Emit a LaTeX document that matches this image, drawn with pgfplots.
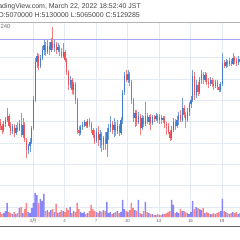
\documentclass[border=0pt]{standalone}
\usepackage{pgfplots}
\pgfplotsset{compat=1.18}
\usepackage{pgfplotstable}
\usepackage{fontspec}
\setmainfont{Liberation Sans}
\newfontfamily\cjk{Noto Sans CJK JP}
\definecolor{upc}{RGB}{66,124,204}
\definecolor{dnc}{RGB}{238,84,88}
\definecolor{upv}{RGB}{135,135,250}
\definecolor{dnv}{RGB}{250,135,135}
\definecolor{gridc}{RGB}{228,234,243}
\definecolor{hlc}{RGB}{165,165,245}
\definecolor{txt}{RGB}{70,70,70}
% o h l c : depth below the top of the picture (pixels); v : volume bar height
\pgfplotstableread{
i o h l c v
0 122 119 130 126 5
1 126 124 134 130 3
2 130 121 132 124 4
3 124 117 127 120 6
4 120 108 122 116 14
5 116 114 128 126 5
6 126 122 135 131 4
7 131 124 134 126 3
8 126 124 137 133 5
9 133 125 135 128 3
10 128 122 132 130 4
11 130 120 131 124 9
12 124 113 137 135 10
13 135 118 138 125 4
14 125 122 142 140 8
15 140 138 158 150 14
16 150 144 154 146 5
17 146 138 152 142 4
18 142 126 144 128 9
19 128 96 130 100 14
20 100 58 102 62 24
21 62 53 68 56 22
22 56 54 70 66 14
23 66 55 68 58 18
24 58 46 60 50 16
25 50 40 55 45 23
26 45 42 56 52 6
27 52 40 54 46 7
28 46 42 55 50 5
29 50 38 52 42 7
30 42 27 50 48 8
31 48 40 52 44 5
32 44 42 54 50 13
33 50 43 52 47 4
34 47 45 56 52 5
35 52 48 58 56 7
36 56 43 58 52 6
37 52 50 62 60 5
38 60 58 75 72 9
39 72 70 90 85 7
40 85 76 88 80 10
41 80 78 94 90 4
42 90 82 95 84 6
43 84 82 104 100 5
44 100 98 134 130 14
45 130 126 136 133 8
46 133 125 135 127 5
47 127 122 130 125 4
48 125 120 127 122 5
49 122 121 128 126 3
50 126 119 128 121 4
51 121 118 127 124 6
52 124 122 133 130 12
53 130 128 138 135 8
54 135 130 144 141 6
55 141 128 143 132 5
56 132 126 146 140 4
57 140 130 148 134 6
58 134 132 152 145 5
59 145 136 150 138 7
60 138 132 150 144 6
61 144 128 157 132 15
62 132 124 140 128 4
63 128 116 132 124 5
64 124 121 134 130 3
65 130 118 137 125 4
66 125 122 136 131 5
67 131 120 134 126 6
68 126 124 136 133 4
69 133 117 135 120 5
70 120 90 124 92 17
71 92 72 95 75 8
72 75 70 82 80 6
73 80 70 83 74 5
74 74 72 86 82 7
75 82 80 104 100 14
76 100 98 122 118 9
77 118 110 127 113 7
78 113 110 126 122 6
79 122 112 124 116 17
80 116 114 135 128 4
81 128 115 130 118 3
82 118 116 127 124 6
83 124 102 126 116 15
84 116 113 124 122 5
85 122 115 125 117 4
86 117 114 130 123 3
87 123 115 125 117 3
88 117 115 122 119 2
89 119 113 121 116 2
90 116 114 123 120 3
91 120 114 124 117 2
92 117 115 124 120 2
93 120 116 123 118 3
94 118 116 128 124 3
95 124 122 135 126 4
96 126 123 134 132 5
97 132 130 141 138 6
98 138 126 140 130 17
99 130 118 132 122 12
100 122 119 130 126 4
101 126 116 128 120 5
102 120 112 125 115 4
103 115 110 122 120 8
104 120 98 122 108 6
105 108 105 118 115 6
106 115 112 128 120 5
107 120 108 122 112 4
108 112 102 116 104 3
109 104 96 108 100 5
110 100 70 102 76 16
111 76 72 100 95 8
112 95 80 98 85 10
113 85 82 96 92 9
114 92 77 94 80 8
115 80 70 84 74 7
116 74 72 84 80 9
117 80 72 82 75 4
118 75 73 85 82 5
119 82 78 88 84 4
120 84 77 86 80 3
121 80 78 87 84 3
122 84 80 90 86 4
123 86 80 88 82 3
124 82 80 90 87 4
125 87 84 92 90 5
126 90 82 92 84 6
127 84 53 86 63 18
128 63 60 68 66 6
129 66 59 68 62 5
130 62 60 67 64 4
131 64 58 66 61 3
132 61 59 66 64 4
133 64 53 65 58 5
134 58 56 64 61 4
135 61 58 66 63 5
136 63 56 65 59 3
137 59 57 64 62 4
}\candles
\begin{document}
\begin{tikzpicture}[x=1bp,y=1bp]
\useasboundingbox (0,0) rectangle (240,240);
\clip (0,0) rectangle (240,240);
\fill[white] (0,0) rectangle (240,240);
% volume + grid
\begin{axis}[at={(0,23)}, anchor=south west, scale only axis, width=240bp, height=195bp,
  xmin=-0.107, xmax=137.04, ymin=0, ymax=195,
  axis line style={draw=none}, major tick length=0pt,
  xtick={18.75,36.75,54.75,72.75,90.75,108.75,126.75},
  xticklabels={3{\cjk 月},4,7,10,13,16,19},
  ytick={10,31.3,52.7,74,95.3,116.7,138,159.3}, yticklabels={},
  grid=major, grid style={gridc, line width=0.8bp},
  xticklabel style={font=\fontsize{4.5}{5}\selectfont, text=black!60, inner sep=1pt, yshift=-1pt}]
\addplot[ybar, bar width=1.4bp, bar shift=0pt, fill=upv, draw=none,
  restrict expr to domain={\thisrow{o}-\thisrow{c}}{0.001:1000}] table[x=i,y=v]{\candles};
\addplot[ybar, bar width=1.4bp, bar shift=0pt, fill=dnv, draw=none,
  restrict expr to domain={\thisrow{c}-\thisrow{o}}{0.001:1000}] table[x=i,y=v]{\candles};
\end{axis}
% candles (y axis counts pixels from the top: value = 240 - depth)
\begin{axis}[at={(0,23)}, anchor=south west, scale only axis, width=240bp, height=195bp,
  xmin=-0.107, xmax=137.04, ymin=23, ymax=218,
  axis line style={draw=none}, xtick=\empty, ytick=\empty]
\addplot[hlc, line width=1bp] coordinates {(-1,200.5) (140,200.5)};
\addplot[draw=none, mark=none, restrict expr to domain={\thisrow{o}-\thisrow{c}}{0.001:1000},
  error bars/.cd, y dir=both, y explicit, error mark=none, error bar style={draw=upc!75, line width=0.5bp}]
  table[x=i, y expr=240-(\thisrow{h}+\thisrow{l})/2, y error expr=(\thisrow{l}-\thisrow{h})/2]{\candles};
\addplot[draw=none, mark=none, restrict expr to domain={\thisrow{c}-\thisrow{o}}{0.001:1000},
  error bars/.cd, y dir=both, y explicit, error mark=none, error bar style={draw=dnc!75, line width=0.5bp}]
  table[x=i, y expr=240-(\thisrow{h}+\thisrow{l})/2, y error expr=(\thisrow{l}-\thisrow{h})/2]{\candles};
\addplot[draw=none, mark=none, restrict expr to domain={\thisrow{o}-\thisrow{c}}{0.001:1000},
  error bars/.cd, y dir=both, y explicit, error mark=none, error bar style={draw=upc, line width=1.2bp}]
  table[x=i, y expr=240-(\thisrow{o}+\thisrow{c})/2, y error expr=(\thisrow{o}-\thisrow{c})/2]{\candles};
\addplot[draw=none, mark=none, restrict expr to domain={\thisrow{c}-\thisrow{o}}{0.001:1000},
  error bars/.cd, y dir=both, y explicit, error mark=none, error bar style={draw=dnc, line width=1.2bp}]
  table[x=i, y expr=240-(\thisrow{o}+\thisrow{c})/2, y error expr=(\thisrow{c}-\thisrow{o})/2]{\candles};
\end{axis}
\draw[black!30, line width=0.8bp] (0,218) -- (240,218);
\draw[black!8, line width=0.6bp] (0,23) -- (240,23);
\draw[black!60, line width=0.9bp] (0,14) -- (240,14);
\node[anchor=base east, inner sep=0pt, font=\fontsize{7}{8}\selectfont, text=txt] at (141,231.7) {TradingView.com, March 22, 2022 18:52:40 JST};
\node[anchor=base east, inner sep=0pt, font=\fontsize{7}{8}\selectfont, text=txt] at (140,222.7) {O:5070000 H:5130000 L:5065000 C:5129285};
\node[anchor=base east, inner sep=0pt, font=\fontsize{6}{7}\selectfont, text=black!55] at (10.7,211.4) {BTCJPY, 240};
\end{tikzpicture}
\end{document}
